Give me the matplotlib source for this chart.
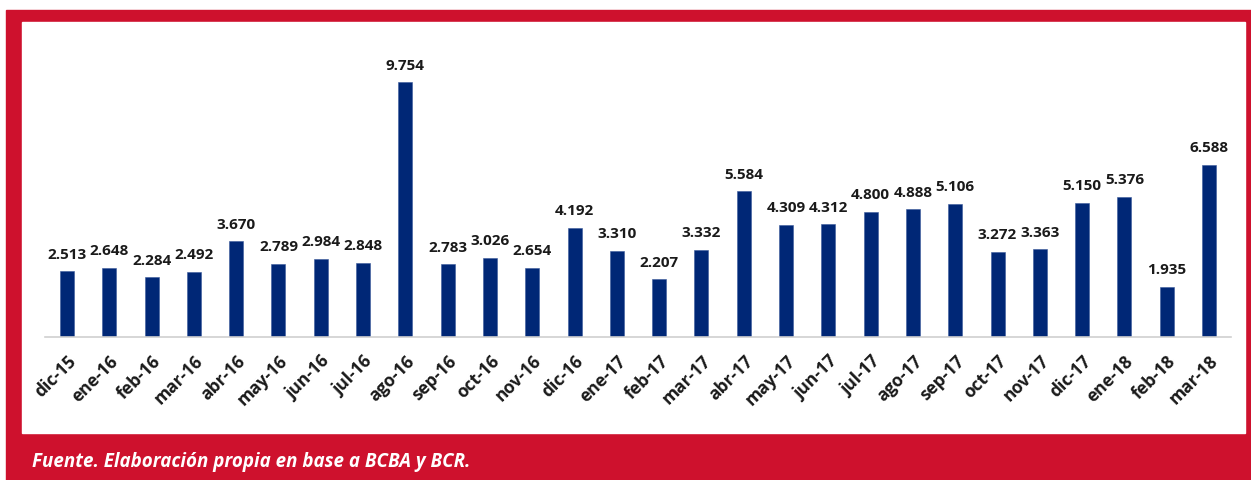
import matplotlib.pyplot as plt
import matplotlib.patches as mpatches

# Monthly values (labels shown with Spanish decimal point)
months = ["dic-15", "ene-16", "feb-16", "mar-16", "abr-16", "may-16", "jun-16",
          "jul-16", "ago-16", "sep-16", "oct-16", "nov-16", "dic-16", "ene-17",
          "feb-17", "mar-17", "abr-17", "may-17", "jun-17", "jul-17", "ago-17",
          "sep-17", "oct-17", "nov-17", "dic-17", "ene-18", "feb-18", "mar-18"]
values = [2.513, 2.648, 2.284, 2.492, 3.670, 2.789, 2.984, 2.848, 9.754, 2.783,
          3.026, 2.654, 4.192, 3.310, 2.207, 3.332, 5.584, 4.309, 4.312, 4.800,
          4.888, 5.106, 3.272, 3.363, 5.150, 5.376, 1.935, 6.588]
source = "Fuente. Elaboración propia en base a BCBA y BCR."

RED = "#CE112D"
NAVY = "#002776"
W, H = 1251, 480

plt.rcParams["font.family"] = ["Open Sans", "DejaVu Sans"]

fig = plt.figure(figsize=(W / 100, H / 100), dpi=100)
fig.patch.set_facecolor("white")

# red frame + white panel (pixel coords from top-left)
fig.patches.append(mpatches.Rectangle((6 / W, 0), (W - 6) / W, (H - 10) / H,
                                      transform=fig.transFigure, color=RED, zorder=-2))
fig.patches.append(mpatches.Rectangle((22 / W, (H - 433) / H), (1245 - 22) / W, (433 - 22) / H,
                                      transform=fig.transFigure, color="white", zorder=-1))

ax = fig.add_axes([45 / W, (H - 337) / H, (1231 - 45) / W, 274 / H])
ax.set_zorder(2)
ax.set_facecolor("none")
x = list(range(len(months)))
bars = ax.bar(x, values, width=0.33, color=NAVY, edgecolor="#3a5a9a", linewidth=0.4)

for xi, v in zip(x, values):
    ax.annotate(f"{v:.3f}", (xi, v), xytext=(0, 7), textcoords="offset points",
                ha="center", va="bottom", fontsize=11, fontweight="bold",
                color="#1a1a1a", annotation_clip=False)

ax.set_xlim(-0.52, len(months) - 0.48)
ax.set_ylim(0, 10.5)
ax.set_yticks([])
ax.set_xticks(x)
ax.set_xticklabels(months, rotation=45, ha="right", rotation_mode="anchor",
                   fontsize=12.5, fontweight="bold", color="#1a1a1a")
ax.tick_params(axis="x", length=0, pad=11)
for side in ["top", "right", "left"]:
    ax.spines[side].set_visible(False)
ax.spines["bottom"].set_color("#d0d0d0")
ax.spines["bottom"].set_linewidth(1.2)

fig.text(32 / W, (H - 462) / H, source, color="white", fontsize=13.5,
         fontweight="bold", fontstyle="italic", va="center", ha="left", zorder=3)

fig.savefig("out.png", dpi=100)
